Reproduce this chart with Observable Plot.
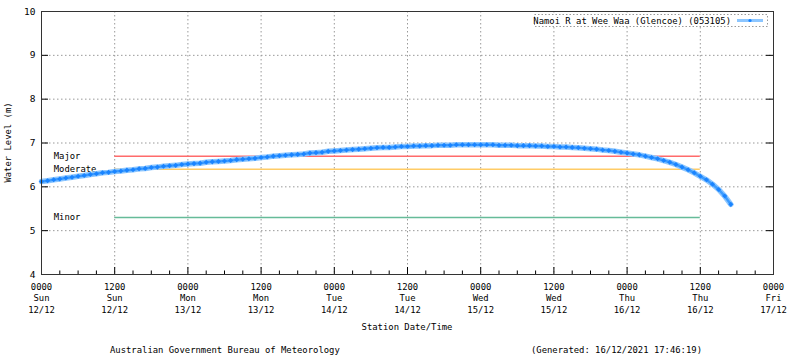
<!DOCTYPE html>
<html>
<head>
<meta charset="utf-8">
<script src="https://cdn.jsdelivr.net/npm/d3@7"></script>
<script src="https://cdn.jsdelivr.net/npm/@observablehq/plot@0.6"></script>
<style>
  html, body { margin: 0; padding: 0; background: #fff; }
  svg { display: block; }
</style>
</head>
<body>
<div id="chart"></div>
<script>
// ---- data ----
const seriesName = "Namoi R at Wee Waa (Glencoe) (053105)";
const seriesStart = "2021-12-12T00:00Z"; // first reading, hourly readings after
const waterLevels = [
  6.12, 6.14, 6.16, 6.18, 6.20, 6.22, 6.24, 6.26, 6.28, 6.30, 6.32, 6.33,
  6.35, 6.36, 6.38, 6.39, 6.41, 6.42, 6.44, 6.45, 6.47, 6.48, 6.49, 6.51,
  6.52, 6.53, 6.54, 6.56, 6.57, 6.58, 6.59, 6.60, 6.62, 6.63, 6.64, 6.65,
  6.67, 6.68, 6.70, 6.71, 6.72, 6.73, 6.74, 6.75, 6.77, 6.78, 6.79, 6.81,
  6.82, 6.83, 6.84, 6.85, 6.86, 6.87, 6.88, 6.89, 6.90, 6.90, 6.91, 6.92,
  6.92, 6.93, 6.93, 6.94, 6.94, 6.95, 6.95, 6.95, 6.96, 6.96, 6.96, 6.96,
  6.96, 6.96, 6.96, 6.95, 6.95, 6.95, 6.94, 6.94, 6.94, 6.93, 6.93, 6.92,
  6.92, 6.91, 6.91, 6.90, 6.89, 6.88, 6.87, 6.86, 6.84, 6.83, 6.81, 6.79,
  6.77, 6.75, 6.73, 6.70, 6.67, 6.64, 6.60, 6.56, 6.51, 6.45, 6.39, 6.32,
  6.24, 6.16, 6.06, 5.94, 5.79, 5.60
];
const thresholdNames = ["Major", "Moderate", "Minor"];
const thresholdLevels = [6.7, 6.4, 5.3];
const thresholdColors = ["#ff6b6b", "#ffcc66", "#66bb99"];
const thresholdStart = "2021-12-12T12:00Z";
const thresholdEnd = "2021-12-16T12:00Z";
const xTickTimes = [
  "2021-12-12T00:00Z", "2021-12-12T12:00Z", "2021-12-13T00:00Z", "2021-12-13T12:00Z",
  "2021-12-14T00:00Z", "2021-12-14T12:00Z", "2021-12-15T00:00Z", "2021-12-15T12:00Z",
  "2021-12-16T00:00Z", "2021-12-16T12:00Z", "2021-12-17T00:00Z"
];
const xTickLabels = [
  "0000\nSun\n12/12", "1200\nSun\n12/12", "0000\nMon\n13/12", "1200\nMon\n13/12",
  "0000\nTue\n14/12", "1200\nTue\n14/12", "0000\nWed\n15/12", "1200\nWed\n15/12",
  "0000\nThu\n16/12", "1200\nThu\n16/12", "0000\nFri\n17/12"
];
const yTicks = [4, 5, 6, 7, 8, 9, 10];
const yLabel = "Water Level (m)";
const xLabel = "Station Date/Time";
const footerLeft = "Australian Government Bureau of Meteorology";
const footerRight = "(Generated: 16/12/2021 17:46:19)";

// ---- build ----
const t0 = new Date(seriesStart);
const readings = waterLevels.map((v, i) => ({time: d3.utcHour.offset(t0, i), level: v}));
const majorTicks = xTickTimes.map(d => new Date(d));
const labelByTime = new Map(majorTicks.map((d, i) => [+d, xTickLabels[i]]));
const xDomain = [majorTicks[0], majorTicks[majorTicks.length - 1]];
const minorTicks = d3.utcHour.every(3).range(xDomain[0], xDomain[1]).filter(d => d.getUTCHours() % 12 !== 0);
const thresholds = thresholdNames.map((n, i) => ({
  name: n, level: thresholdLevels[i], color: thresholdColors[i],
  start: new Date(thresholdStart), end: new Date(thresholdEnd)
}));

const FONT = "DejaVu Sans Mono, monospace";
const FS = 8.9;
const W = 800, H = 358, ML = 41, MR = 27, MT = 11, MB = 84;

const plot = Plot.plot({
  width: W, height: H,
  marginLeft: ML, marginRight: MR, marginTop: MT, marginBottom: MB,
  style: {fontFamily: FONT, fontSize: FS + "px", color: "#000", background: "#fff"},
  x: {type: "utc", domain: xDomain},
  y: {domain: [4, 10]},
  marks: [
    // dotted grid
    Plot.ruleX(majorTicks.slice(1, -1), {stroke: "#999", strokeDasharray: "1.5,2.5", strokeOpacity: 1}),
    Plot.ruleY(yTicks.slice(1, -1), {stroke: "#999", strokeDasharray: "1.5,2.5", strokeOpacity: 1}),
    // threshold lines
    Plot.ruleY(thresholds, {y: "level", x1: "start", x2: "end", stroke: "color", strokeWidth: 1.5}),
    Plot.text(thresholds, {y: "level", x: () => d3.utcHour.offset(xDomain[0], 2.2), text: "name", textAnchor: "start", fill: "#000", fontSize: FS}),
    // series
    Plot.line(readings, {x: "time", y: "level", stroke: "#8cc6ff", strokeWidth: 5.5}),
    Plot.line(readings, {x: "time", y: "level", stroke: "#3b9bff", strokeWidth: 2.5}),
    Plot.dot(readings, {x: "time", y: "level", r: 2.3, fill: "#1a84ff", stroke: "none", symbol: "diamond2"}),
    // inward ticks
    Plot.ruleX(majorTicks, {y1: 4, y2: 4.16, stroke: "#000"}),
    Plot.ruleX(minorTicks, {y1: 4, y2: 4.08, stroke: "#000"}),
    Plot.ruleY(yTicks, {x1: xDomain[0], x2: d3.utcMinute.offset(xDomain[0], 69), stroke: "#000"}),
    Plot.ruleY(yTicks, {x1: d3.utcMinute.offset(xDomain[1], -69), x2: xDomain[1], stroke: "#000"}),
    // axes
    Plot.axisY(yTicks, {anchor: "left", tickSize: 0, tickPadding: 6, label: null, fontSize: 9.5}),
    Plot.axisX(majorTicks, {anchor: "bottom", tickSize: 0, tickPadding: 7, label: null,
      tickFormat: d => labelByTime.get(+d), lineHeight: 1.3, fontSize: FS}),
    Plot.frame({stroke: "#333", strokeWidth: 1})
  ]
});

document.getElementById("chart").appendChild(plot);

// ---- annotation text and legend ----
const svg = d3.select(plot);
const ann = svg.append("g").attr("font-family", FONT).attr("font-size", FS).attr("fill", "#000");
ann.append("text").attr("transform", `translate(11,${(MT + H - MB) / 2}) rotate(-90)`)
  .attr("text-anchor", "middle").text(yLabel);
ann.append("text").attr("x", (ML + W - MR) / 2).attr("y", 330).attr("text-anchor", "middle").text(xLabel);
ann.append("text").attr("x", 110).attr("y", 353).attr("text-anchor", "start").text(footerLeft);
ann.append("text").attr("x", 531).attr("y", 353).attr("text-anchor", "start").text(footerRight);

const lg = svg.append("g");
lg.append("rect").attr("x", 534.5).attr("y", 14.5).attr("width", 233).attr("height", 12)
  .attr("fill", "#fff").attr("stroke", "#999").attr("stroke-dasharray", "1.5,2");
lg.append("text").attr("x", 731).attr("y", 24).attr("text-anchor", "end")
  .attr("font-family", FONT).attr("font-size", FS).text(seriesName);
lg.append("line").attr("x1", 737).attr("x2", 763).attr("y1", 20.5).attr("y2", 20.5)
  .attr("stroke", "#8cc6ff").attr("stroke-width", 3);
lg.append("circle").attr("cx", 750).attr("cy", 20.5).attr("r", 1.6).attr("fill", "#1a84ff");
</script>
</body>
</html>
